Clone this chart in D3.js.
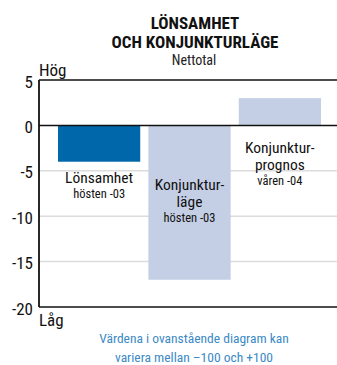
<!DOCTYPE html>
<html>
<head>
<meta charset="utf-8">
<script src="https://cdn.jsdelivr.net/npm/d3@7"></script>
<style>
  html, body { margin: 0; padding: 0; background: #fff; }
  svg text { font-family: "Liberation Sans Narrow", "Arial Narrow", "Roboto Condensed", sans-serif; }
</style>
</head>
<body>
<svg id="chart" width="337" height="365"></svg>
<script>
// Chart data
const categories = ["Lönsamhet", "Konjunkturläge", "Konjunkturprognos"];
const values = [-4, -17, 3];
const barColors = ["#0067aa", "#c4cfe5", "#c4cfe5"];
const labelLines = [
  [{ t: "Lönsamhet", big: true }, { t: "hösten -03", big: false }],
  [{ t: "Konjunktur-", big: true }, { t: "läge", big: true }, { t: "hösten -03", big: false }],
  [{ t: "Konjunktur-", big: true }, { t: "prognos", big: true }, { t: "våren -04", big: false }]
];
const tickValues = [5, 0, -5, -10, -15, -20];
const gridValues = [-5, -10, -15];
const titleLines = ["LÖNSAMHET", "OCH KONJUNKTURLÄGE"];
const subtitle = "Nettotal";
const noteLines = ["Värdena i ovanstående diagram kan", "variera mellan \u2013100 och +100"];

const svg = d3.select("#chart");
const W = 337;
const left = 39;

const y = d3.scaleLinear().domain([-20, 5]).range([307, 80]);
const x = d3.scaleBand().domain(categories).range([left, 340])
  .paddingInner(0.09).paddingOuter(0.21);

// Title block
svg.append("g").attr("text-anchor", "middle").selectAll("text").data(titleLines).join("text")
  .attr("x", 195).attr("y", (d, i) => 29 + i * 19)
  .attr("font-size", 17).attr("font-weight", "bold").attr("fill", "#111")
  .text(d => d);
svg.append("text").attr("text-anchor", "middle").attr("x", 194).attr("y", 65)
  .attr("font-size", 14).attr("fill", "#222").text(subtitle);

// Gridlines
svg.append("g").selectAll("line").data(gridValues).join("line")
  .attr("x1", left).attr("x2", W)
  .attr("y1", d => y(d)).attr("y2", d => y(d))
  .attr("stroke", "#dcdcdc").attr("stroke-width", 1.5);

// Bars
svg.append("g").selectAll("rect").data(categories).join("rect")
  .attr("x", d => x(d))
  .attr("width", x.bandwidth())
  .attr("y", (d, i) => y(Math.max(0, values[i])))
  .attr("height", (d, i) => Math.abs(y(values[i]) - y(0)))
  .attr("fill", (d, i) => barColors[i]);

// Frame: top, zero, bottom and left axis
svg.append("g").selectAll("line").data([5, 0, -20]).join("line")
  .attr("x1", left).attr("x2", W)
  .attr("y1", d => y(d)).attr("y2", d => y(d))
  .attr("stroke", "#111").attr("stroke-width", 1.5);
svg.append("line")
  .attr("x1", left).attr("x2", left)
  .attr("y1", y(5)).attr("y2", y(-20))
  .attr("stroke", "#111").attr("stroke-width", 1.8);

// Y tick labels
svg.append("g").attr("text-anchor", "end").selectAll("text").data(tickValues).join("text")
  .attr("x", 33).attr("y", d => y(d) + 7.5)
  .attr("font-size", 17).attr("fill", "#111")
  .text(d => d);

svg.append("text").attr("x", 39).attr("y", 76).attr("font-size", 17).attr("fill", "#111").text("Hög");
svg.append("text").attr("x", 39).attr("y", 326).attr("font-size", 17).attr("fill", "#111").text("Låg");

// Bar labels
const labelTop = [183, 190, 153];
categories.forEach((c, i) => {
  const cx = x(c) + x.bandwidth() / 2;
  let yy = labelTop[i];
  const g = svg.append("g").attr("text-anchor", "middle");
  labelLines[i].forEach((ln, j) => {
    if (j > 0) yy += ln.big ? 16.5 : 15;
    g.append("text").attr("x", cx).attr("y", yy)
      .attr("font-size", ln.big ? 15.5 : 12.5).attr("fill", "#111")
      .text(ln.t);
  });
});

// Footnote
svg.append("g").attr("text-anchor", "middle").selectAll("text").data(noteLines).join("text")
  .attr("x", 194).attr("y", (d, i) => 343 + i * 19)
  .attr("font-size", 13.5).attr("fill", "#3b8ac6")
  .text(d => d);
</script>
</body>
</html>
